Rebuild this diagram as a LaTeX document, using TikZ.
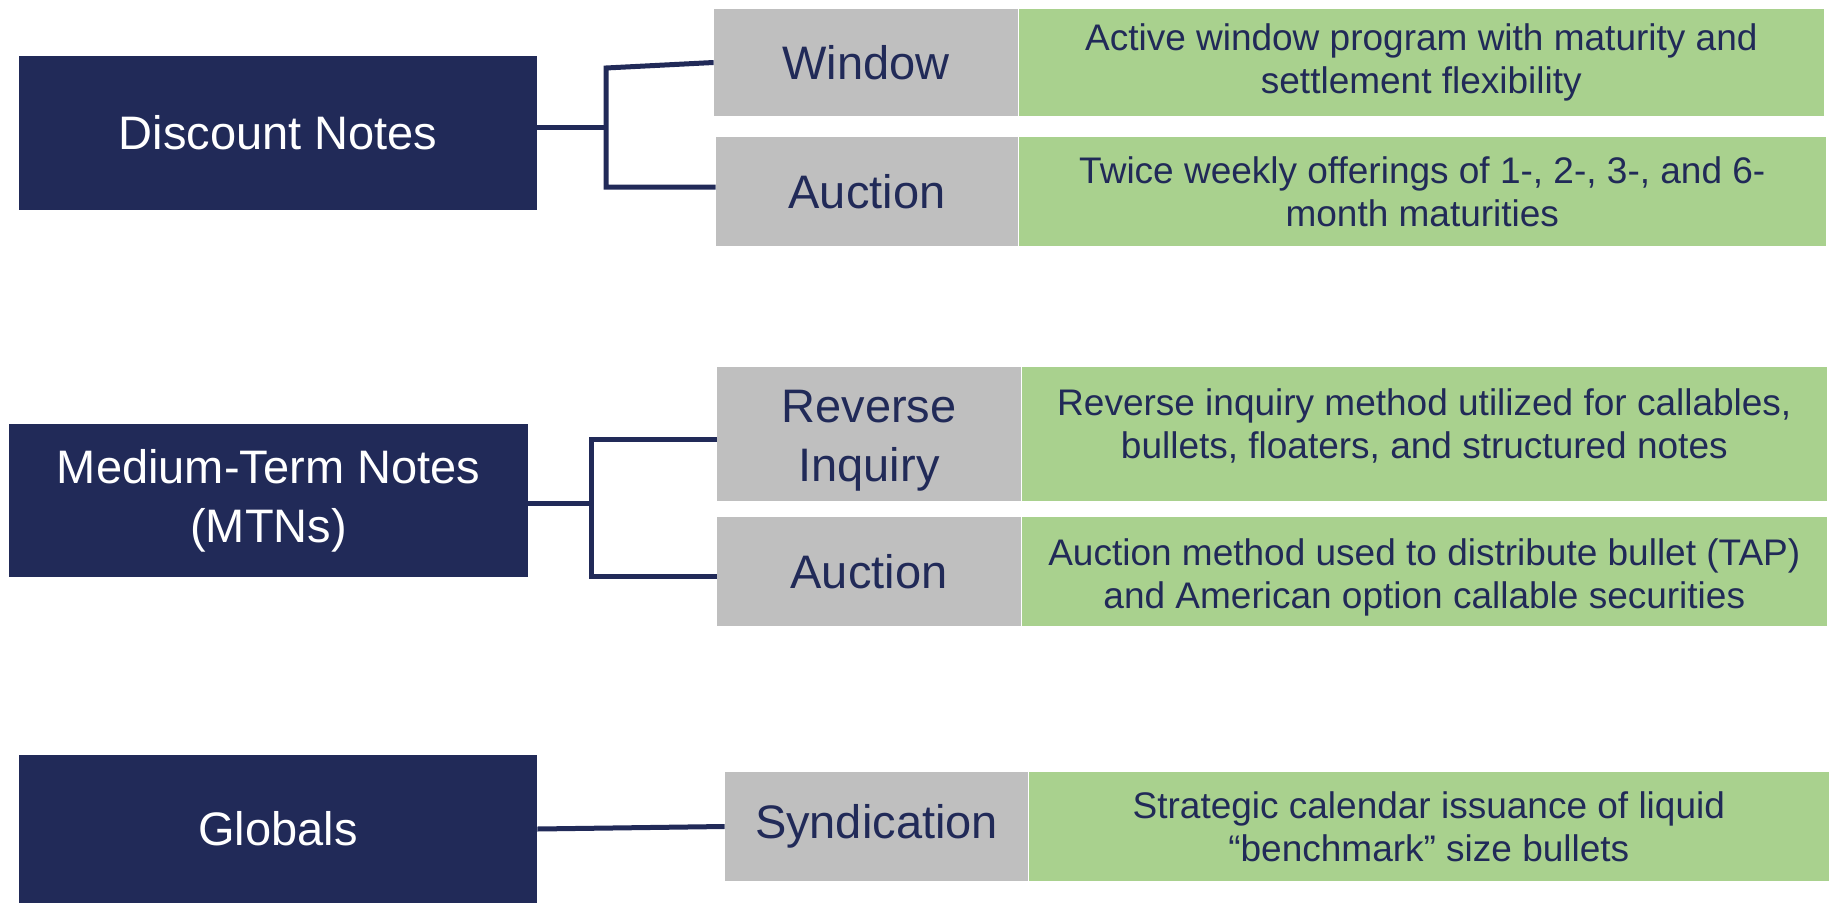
\documentclass[tikz,border=0pt]{standalone}
\usepackage{fontspec}
\setmainfont{Liberation Sans}
\definecolor{navy}{RGB}{33,42,88}
\definecolor{boxgray}{RGB}{191,191,191}
\definecolor{boxgreen}{RGB}{169,209,142}
\begin{document}
\begin{tikzpicture}[x=0.5pt,y=-0.5pt,
    navybox/.style = {fill=navy,text=white,inner sep=0pt,align=center,font=\fontsize{23.5}{29.5}\selectfont},
    graybox/.style = {fill=boxgray,text=navy,inner sep=0pt,align=center,font=\fontsize{23.5}{29.5}\selectfont},
    greenbox/.style = {fill=boxgreen,text=navy,inner sep=0pt,align=center,anchor=west,font=\fontsize{18.5}{21.5}\selectfont},
    link/.style = {navy,line width=2.5pt}]
    \useasboundingbox (0,0) rectangle (1831,904);

    % issue types
    \node[navybox,minimum width=259pt,minimum height=77pt] (dn) at (278,133) {Discount Notes};
    \node[navybox,minimum width=259.5pt,minimum height=76.5pt] (mtn) at (268.5,500.5) {Medium-Term Notes\\(MTNs)};
    \node[navybox,minimum width=259pt,minimum height=74pt] (gl) at (278,829) {Globals};

    % methods
    \node[graybox,minimum width=152pt,minimum height=53.5pt] (win) at (866,62.5) {Window};
    \node[graybox,minimum width=151pt,minimum height=54.5pt] (auc1) at (867,191.5) {Auction};
    \node[graybox,minimum width=152pt,minimum height=67pt,text height=52pt] (rev) at (869,434) {Reverse\\Inquiry};
    \node[graybox,minimum width=152pt,minimum height=54.5pt] (auc2) at (869,571.5) {Auction};
    \node[graybox,minimum width=151.5pt,minimum height=54.5pt] (syn) at (876.5,826.5) {Syndication};

    % descriptions
    \node[greenbox,minimum width=402.5pt,minimum height=53.5pt] (wintext) at (win.east) {Active window program with maturity and\\settlement flexibility};
    \node[greenbox,minimum width=403.5pt,minimum height=54.5pt] (auc1text) at (auc1.east) {Twice weekly offerings of 1-, 2-, 3-, and 6-\\month maturities};
    \node[greenbox,minimum width=402.5pt,minimum height=67pt,text depth=10.5pt] (revtext) at (rev.east) {Reverse inquiry method utilized for callables,\\bullets, floaters, and structured notes};
    \node[greenbox,minimum width=402.5pt,minimum height=54.5pt,text height=40.5pt] (auc2text) at (auc2.east) {Auction method used to distribute bullet (TAP)\\and American option callable securities};
    \node[greenbox,minimum width=400pt,minimum height=54.5pt] (syntext) at (syn.east) {Strategic calendar issuance of liquid\\“benchmark” size bullets};

    % brackets
    \coordinate (dnj) at (606,128);
    \coordinate (dntop) at (606,68);
    \coordinate (dnbot) at (606,187);
    \draw[link] (dn.east |- dnj) -- (dnj);
    \draw[link] (win.west) -- (dntop) -- (dnbot) -- (dnbot -| auc1.west);

    \coordinate (mtnj) at (591,503);
    \coordinate (mtntop) at (591,439);
    \coordinate (mtnbot) at (591,576);
    \draw[link] (mtn.east |- mtnj) -- (mtnj);
    \draw[link] (mtntop -| rev.west) -- (mtntop) -- (mtnbot) -- (mtnbot -| auc2.west);

    \draw[link] (gl.east) -- (syn.west);
\end{tikzpicture}
\end{document}
